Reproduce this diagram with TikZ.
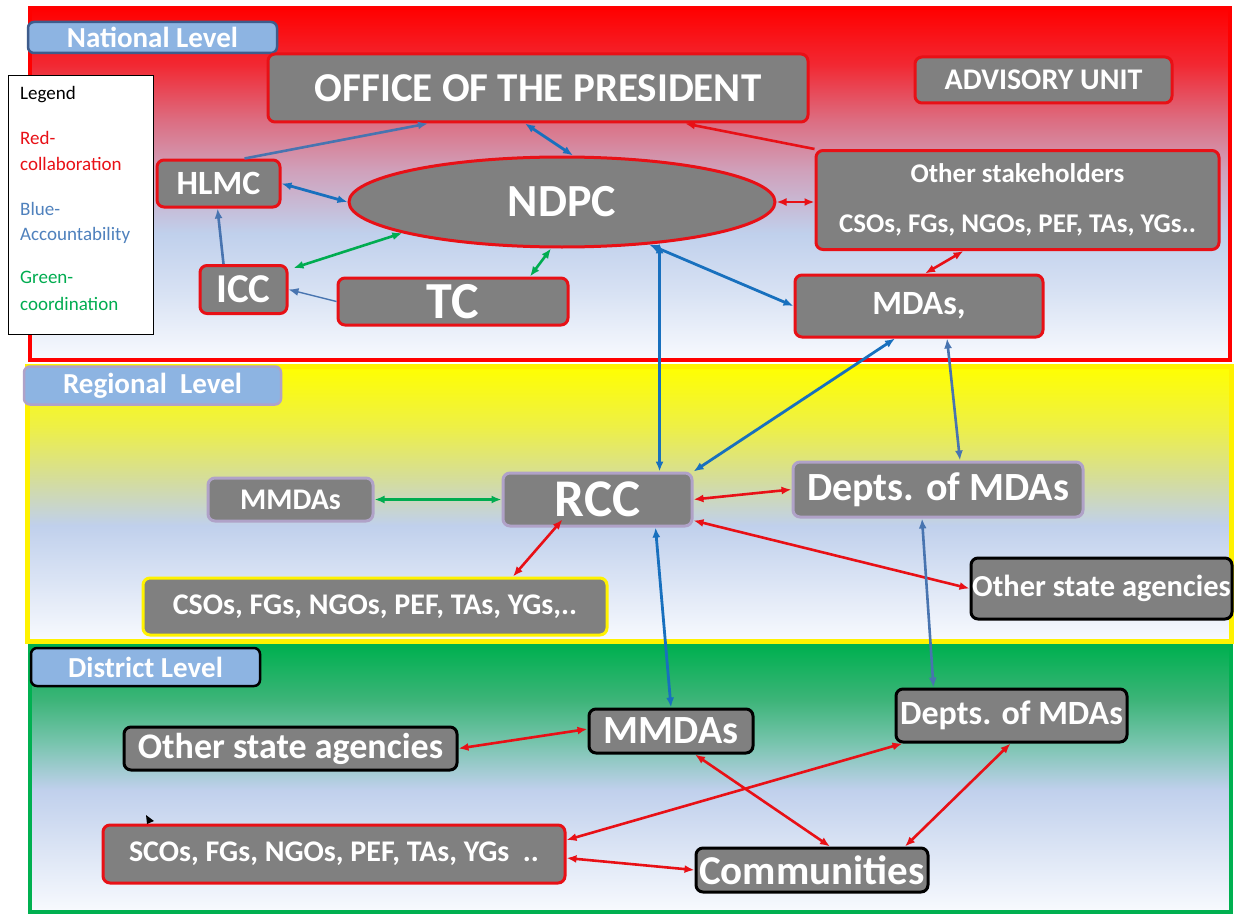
\documentclass[tikz,border=0pt]{standalone}
\usepackage{fontspec}
\setmainfont{Carlito}
\usetikzlibrary{arrows.meta,shapes.geometric}

\definecolor{boxgray}{RGB}{128,128,128}
\definecolor{colred}{RGB}{232,16,22}
\definecolor{accblue}{RGB}{24,112,190}
\definecolor{accsteel}{RGB}{72,116,176}
\definecolor{coordgreen}{RGB}{0,172,80}
\definecolor{legblue}{RGB}{79,129,189}
\definecolor{labelblue}{RGB}{141,180,226}
\definecolor{labelrim}{RGB}{62,92,140}
\definecolor{lavrim}{RGB}{176,162,200}
\definecolor{paleend}{RGB}{248,250,254}
\definecolor{paleblue}{RGB}{192,208,236}
\definecolor{natpink}{RGB}{208,160,186}
\definecolor{natrose}{RGB}{220,110,130}
\definecolor{natred}{RGB}{242,40,50}
\definecolor{regyel}{RGB}{238,240,70}
\definecolor{regolive}{RGB}{214,222,150}
\definecolor{distgreen}{RGB}{60,180,120}
\definecolor{distteal}{RGB}{118,196,172}
\definecolor{panelgreen}{RGB}{0,176,80}

% panel shadings (inner 25bp..75bp is stretched over the panel)
\pgfdeclareverticalshading{natshade}{100bp}{color(0bp)=(paleend); color(25bp)=(paleend); color(35bp)=(paleblue!60!paleend); color(43bp)=(paleblue); color(52bp)=(natpink); color(59bp)=(natrose); color(67bp)=(natred); color(75bp)=(red); color(100bp)=(red)}
\pgfdeclareverticalshading{regshade}{100bp}{color(0bp)=(paleend); color(25bp)=(paleend); color(46bp)=(paleblue); color(55bp)=(regolive); color(64bp)=(regyel); color(75bp)=(yellow); color(100bp)=(yellow)}
\pgfdeclareverticalshading{distshade}{100bp}{color(0bp)=(paleend); color(25bp)=(paleend); color(48bp)=(paleblue); color(57bp)=(distteal); color(65bp)=(distgreen); color(75bp)=(panelgreen); color(100bp)=(panelgreen)}

\newcommand{\fsz}[1]{\fontsize{#1}{#1}\selectfont}

\begin{document}
\begin{tikzpicture}[x=1pt,y=-1pt,
    box/.style={rectangle, rounded corners=7pt, fill=boxgray, line width=3pt, text=white, font=\bfseries, inner sep=0pt},
    redbox/.style={box, draw=colred},
    blackbox/.style={box, draw=black},
    lavbox/.style={box, draw=lavrim},
    yelbox/.style={box, draw=yellow},
    lvl/.style={rectangle, rounded corners=6pt, fill=labelblue, line width=2.5pt, text=white, font=\bfseries\fsz{29}, inner sep=0pt},
    twoway/.style={{Latex[length=10pt,width=8pt]}-{Latex[length=10pt,width=8pt]}},
    oneway/.style={-{Latex[length=10pt,width=8pt]}},
    colab/.style={draw=colred, line width=2.6pt},
    acc/.style={draw=accblue, line width=2.8pt},
    accs/.style={draw=accsteel, line width=2.6pt},
    coord/.style={draw=coordgreen, line width=2.6pt}]

    \useasboundingbox (0,0) rectangle (1247,915);
    \fill[white] (0,0) rectangle (1247,915);

    % the three levels
    \shadedraw[shading=natshade, draw=red, line width=4pt] (30,8) rectangle (1230,360);
    \shadedraw[shading=regshade, draw=yellow, line width=5pt] (27,366) rectangle (1231,641);
    \shadedraw[shading=distshade, draw=panelgreen, line width=4pt] (30,646) rectangle (1231,912);

    \node[lvl, draw=labelrim, minimum width=249pt, minimum height=31pt] (natlabel) at (152.5,37.5) {National Level};
    \node[lvl, draw=lavrim, minimum width=257pt, minimum height=38pt] (reglabel) at (152.5,385.5) {Regional\ \ Level};
    \node[lvl, draw=black, minimum width=229pt, minimum height=38pt] (distlabel) at (145.5,667) {District Level};

    % legend
    \node[draw=black, fill=white, line width=1pt, minimum width=145pt, minimum height=258pt, inner sep=0pt] (legend) at (80.5,205) {};
    \foreach \yb/\col/\txt in {100/black/Legend, 145/colred/Red-, 170/colred/collaboration, 215/legblue/Blue-, 240/legblue/Accountability, 283/coordgreen/Green-, 310/coordgreen/coordination}
        \node[anchor=base west, text=\col, font=\fsz{19}, inner sep=0pt] (leg\yb) at (20,\yb) {\txt};

    % national level
    \node[redbox, minimum width=540pt, minimum height=68pt, font=\bfseries\fsz{41}] (office) at (538,88) {OFFICE OF THE PRESIDENT};
    \node[redbox, minimum width=257pt, minimum height=46pt, font=\bfseries\fsz{30}] (advisory) at (1043.5,80) {ADVISORY UNIT};
    \node[redbox, minimum width=123pt, minimum height=47pt, font=\bfseries\fsz{34}] (hlmc) at (218.5,183.5) {HLMC};
    \node[ellipse, draw=colred, fill=boxgray, line width=3pt, minimum width=426pt, minimum height=90pt, inner sep=0pt, text=white, font=\bfseries\fsz{46}] (ndpc) at (562,202) {NDPC};
    \node[redbox, minimum width=87pt, minimum height=48pt, font=\bfseries\fsz{41}] (icc) at (243.5,289.5) {ICC};
    \node[redbox, minimum width=230pt, minimum height=47pt, font=\bfseries\fsz{52}] (tc) at (453,301.5) {TC};
    \node[redbox, minimum width=403pt, minimum height=99pt, align=center, font=\bfseries\fontsize{27}{50}\selectfont] (others) at (1017.5,200) {Other stakeholders\\CSOs, FGs, NGOs, PEF, TAs, YGs..};
    \node[redbox, minimum width=248pt, minimum height=62pt, font=\bfseries\fsz{34}] (mdas) at (919,306) {MDAs,};

    % regional level
    \node[lavbox, minimum width=165pt, minimum height=43pt, font=\bfseries\fsz{30}] (rmmdas) at (290.5,499.5) {MMDAs};
    \node[lavbox, minimum width=189pt, minimum height=53pt, font=\bfseries\fsz{53}] (rcc) at (597.5,499.5) {RCC};
    \node[lavbox, minimum width=290pt, minimum height=55pt, font=\bfseries\fsz{40}] (rdepts) at (938,489.5) {Depts. of MDAs};
    \node[yelbox, minimum width=464pt, minimum height=57pt, font=\bfseries\fsz{30}] (rcsos) at (375,606.5) {CSOs, FGs, NGOs, PEF, TAs, YGs,..};
    \node[blackbox, minimum width=261pt, minimum height=61pt, font=\bfseries\fsz{30.5}] (rother) at (1101.5,588.5) {Other state agencies};

    % district level
    \node[blackbox, minimum width=333pt, minimum height=43pt, font=\bfseries\fsz{36}] (dother) at (290.5,748.5) {Other state agencies};
    \node[blackbox, minimum width=164pt, minimum height=44pt, font=\bfseries\fsz{40}] (dmmdas) at (671,731) {MMDAs};
    \node[blackbox, minimum width=231pt, minimum height=53pt, font=\bfseries\fsz{34}] (ddepts) at (1011.5,715.5) {Depts. of MDAs};
    \node[redbox, minimum width=462pt, minimum height=58pt, font=\bfseries\fsz{30}] (dscos) at (334,854) {SCOs, FGs, NGOs, PEF, TAs, YGs\ \ ..};
    \node[blackbox, minimum width=232pt, minimum height=44pt, font=\bfseries\fsz{41}] (dcomm) at (812,870) {Communities};
    \fill (146,815) -- (154,821) -- (147,824) -- cycle;

    % national links
    \draw[accs, oneway] ([xshift=26pt]hlmc.north) -- ([xshift=-110pt]office.south);
    \draw[acc, twoway] ([xshift=11pt]ndpc.north) -- ([xshift=-13pt]office.south);
    \draw[acc, twoway] (hlmc.east) -- (ndpc.west);
    \draw[accs, oneway] ([xshift=-20pt]icc.north) -- ([xshift=-1pt]hlmc.south);
    \draw[accs, line width=1.4pt, oneway] (tc.west) -- (icc.east);
    \draw[coord, twoway] ([xshift=5pt,yshift=-4pt]icc.north east) -- (ndpc.191.5);
    \draw[coord, twoway] ([xshift=77pt]tc.north) -- ([xshift=-11pt]ndpc.south);
    \draw[colab, twoway] (ndpc.east) -- (ndpc.east -| others.west);
    \draw[colab, oneway] (others.north west) -- ([xshift=147pt]office.south);
    \draw[colab, twoway] ([xshift=-54pt]others.south) -- ([xshift=6pt]mdas.north);
    \draw[acc, twoway] (ndpc.-26) -- (mdas.west);

    % national to regional
    \draw[acc, twoway] (ndpc.-23.5) -- (ndpc.-23.5 |- rcc.north);
    \draw[acc, twoway] ([xshift=-24pt]mdas.south) -- (rcc.north east);
    \draw[accs, twoway] ([xshift=28pt]mdas.south) -- ([xshift=22pt]rdepts.north);

    % regional links
    \draw[coord, twoway] (rmmdas.east) -- (rcc.west);
    \draw[colab, twoway] (rcc.east) -- (rdepts.west);
    \draw[colab, twoway] ([xshift=-35pt,yshift=8pt]rcc.south) -- ([xshift=138pt]rcsos.north);
    \draw[colab, twoway] ([yshift=7pt]rcc.south east) -- (rother.west);

    % regional to district
    \draw[acc, twoway] ([xshift=58pt]rcc.south) -- (dmmdas.north);
    \draw[accs, twoway] ([xshift=-16pt]rdepts.south) -- ([xshift=-78pt]ddepts.north);

    % district links
    \draw[colab, twoway] (dother.east) -- ([yshift=2pt]dmmdas.west);
    \draw[colab, twoway] ([xshift=24pt]dmmdas.south) -- ([xshift=18pt]dcomm.north);
    \draw[colab, twoway] ([yshift=14pt]dscos.east) -- ([xshift=8pt]ddepts.south west);
    \draw[colab, twoway] ([yshift=-4pt]dscos.east) -- (dcomm.west);
    \draw[colab, twoway] ([xshift=-1pt]ddepts.south) -- ([xshift=93pt]dcomm.north);

\end{tikzpicture}
\end{document}
